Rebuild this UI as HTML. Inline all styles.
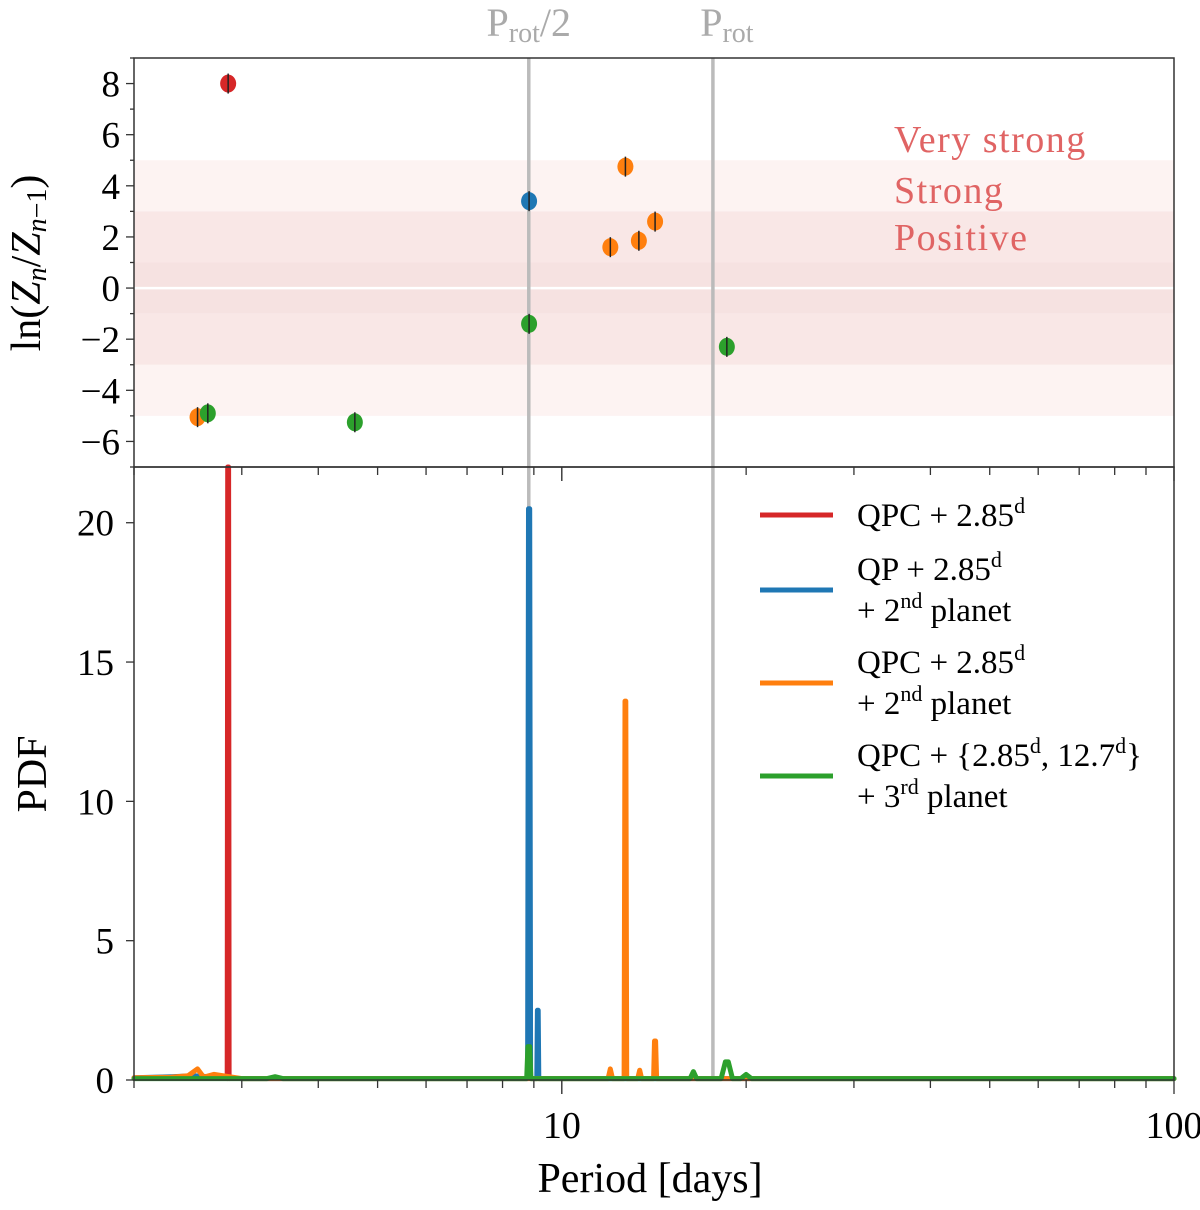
<!DOCTYPE html>
<html><head><meta charset="utf-8"><style>
body{margin:0;background:#fff}
svg text{font-family:"Liberation Serif","DejaVu Serif",serif}
</style></head><body>
<svg id="chart" width="1200" height="1205" xmlns="http://www.w3.org/2000/svg"></svg>
<script>
// ---- data ----
const rotLines = [8.83, 17.65];
const rotLabels = ['P', 'P'];
const ptPeriods = [2.85, 2.54, 2.64, 4.59, 8.84, 8.84, 12.7, 12.0, 13.36, 14.2, 18.6];
const ptValues  = [8.0, -5.05, -4.9, -5.25, 3.4, -1.4, 4.75, 1.6, 1.85, 2.6, -2.3];
const ptSeries  = ['red','orange','green','green','blue','green','orange','orange','orange','orange','green'];
const topYTicks = [-6,-4,-2,0,2,4,6,8];
const botYTicks = [0,5,10,15,20];
const xMajor = [10,100];
const redP = [2.84, 2.845, 2.855, 2.86];
const redV = [0.05, 30, 30, 0.05];
const blueP = [2.0, 2.3, 2.5, 3.0, 5.0, 8.79, 8.82, 8.86, 8.89, 9.10, 9.12, 9.15, 9.17, 9.5, 15, 30, 100];
const blueV = [0.08, 0.12, 0.15, 0.05, 0.05, 0.05, 20.5, 20.5, 0.05, 0.05, 2.5, 2.5, 0.05, 0.05, 0.05, 0.05, 0.05];
const orangeP = [2.0, 2.3, 2.45, 2.54, 2.6, 2.7, 3.0, 8, 11.9, 12.0, 12.1, 12.64, 12.68, 12.72, 12.76, 13.3, 13.4, 13.5, 14.12, 14.17, 14.23, 14.28, 20, 100];
const orangeV = [0.08, 0.1, 0.15, 0.4, 0.1, 0.2, 0.05, 0.05, 0.05, 0.4, 0.05, 0.05, 13.6, 13.6, 0.05, 0.05, 0.35, 0.05, 0.05, 1.4, 1.4, 0.05, 0.05, 0.05];
const greenP = [2.0, 3.3, 3.4, 3.5, 8.76, 8.80, 8.86, 8.90, 16.2, 16.4, 16.6, 18.2, 18.5, 18.7, 19.0, 19.6, 20, 20.4, 100];
const greenV = [0.05, 0.05, 0.12, 0.05, 0.05, 1.2, 1.2, 0.05, 0.05, 0.3, 0.05, 0.05, 0.65, 0.65, 0.05, 0.05, 0.2, 0.05, 0.05];
const legendLabels = [['QPC + 2.85','d'],['QP + 2.85','d'],['QPC + 2.85','d'],['QPC + {2.85','d']];
// ---- scales ----
const X0=134, X1=1174, TOP0=58, TOP1=467, BOT1=1080;
const colors={red:'#d62728',blue:'#1f77b4',orange:'#ff7f0e',green:'#2ca02c'};
function xs(p){return X0+(Math.log10(p)-Math.log10(2))/(Math.log10(100)-Math.log10(2))*(X1-X0);}
function yt(v){return TOP0+(9-v)/16*(TOP1-TOP0);}
function yb(v){return TOP1+(22-v)/22*(BOT1-TOP1);}
const svg=document.getElementById('chart');
const NS='http://www.w3.org/2000/svg';
function mk(tag,at,parent){const e=document.createElementNS(NS,tag);for(const k in at)e.setAttribute(k,at[k]);(parent||svg).appendChild(e);return e;}
// bands
const bands=[[3,5,'#fdf3f2'],[-5,-3,'#fdf3f2'],[1,3,'#f9e7e6'],[-3,-1,'#f9e7e6'],[-1,1,'#f6e2e1']];
bands.forEach(b=>{const r=mk('rect',{x:X0,y:yt(b[1]),width:X1-X0,height:yt(b[0])-yt(b[1]),fill:b[2]});

});
let zl=mk('line',{x1:X0,x2:X1,y1:yt(0),y2:yt(0),stroke:'#fff','stroke-width':2.5});


// band labels
[['Very strong',140],['Strong',191],['Positive',238]].forEach(t=>{const e=mk('text',{x:894,y:t[1]+12,'font-size':38,'letter-spacing':1.5,fill:'#e06464'});e.textContent=t[0];

});
// rot lines
rotLines.forEach((p,i)=>{const l=mk('line',{x1:xs(p),x2:xs(p),y1:TOP0,y2:BOT1,stroke:'#bbb','stroke-width':3.5});


const t=mk('text',{x:xs(p)+(i==0?0:14),y:36,'font-size':40,fill:'#aaa','text-anchor':'middle'});


const a=mk('tspan',{},t);a.textContent=rotLabels[i];
const b=mk('tspan',{'font-size':28,dy:6},t);b.textContent='rot';
if(i==0){const c=mk('tspan',{dy:-6},t);c.textContent='/2';}});
// pdf curves
function curve(P,V,c,name){let d='';P.forEach((p,i)=>{d+=(i?'L':'M')+xs(p).toFixed(1)+','+Math.max(TOP1,yb(V[i])).toFixed(1);});
const e=mk('path',{d:d,fill:'none',stroke:colors[c],'stroke-width':5,'stroke-linejoin':'round','stroke-linecap':'round'});

}
curve(redP,redV,'red','pdf-red');
curve(blueP,blueV,'blue','pdf-blue');
curve(orangeP,orangeV,'orange','pdf-orange');
curve(greenP,greenV,'green','pdf-green');
// points
ptPeriods.forEach((p,i)=>{const cx=xs(p),cy=yt(ptValues[i]);
const c=mk('ellipse',{cx:cx,cy:cy,rx:8,ry:9,fill:colors[ptSeries[i]]});


mk('line',{x1:cx,x2:cx,y1:cy-10,y2:cy+10,stroke:'#222','stroke-width':1.5});});
// frames
[[TOP0,TOP1],[TOP1,BOT1]].forEach(f=>{const r=mk('rect',{x:X0,y:f[0],width:X1-X0,height:f[1]-f[0],fill:'none',stroke:'#333','stroke-width':1.5});

});
// y ticks top
for(let v=-7;v<=9;v++){const L=(v%2===0)?8:4;mk('line',{x1:X0-L,x2:X0,y1:yt(v),y2:yt(v),stroke:'#333','stroke-width':1.3});}
topYTicks.forEach(v=>{const t=mk('text',{x:X0-14,y:yt(v)+13,'font-size':37,'text-anchor':'end'});t.textContent=(v<0?'\u2212':'')+Math.abs(v);

});
botYTicks.forEach(v=>{mk('line',{x1:X0-8,x2:X0,y1:yb(v),y2:yb(v),stroke:'#333','stroke-width':1.3});
const t=mk('text',{x:X0-20,y:yb(v)+13,'font-size':37,'text-anchor':'end'});t.textContent=v;

});
// x ticks
for(let d=1;d<=10;d++){ [1,10].forEach(m=>{const p=d*m;if(p<2||p>100)return;const big=(p===10||p===100);
mk('line',{x1:xs(p),x2:xs(p),y1:BOT1,y2:BOT1+(big?14:8),stroke:'#333','stroke-width':1.3});
mk('line',{x1:xs(p),x2:xs(p),y1:TOP1,y2:TOP1+(big?14:8),stroke:'#333','stroke-width':1.3});});}
xMajor.forEach(p=>{const t=mk('text',{x:xs(p),y:BOT1+58,'font-size':38,'text-anchor':'middle'});t.textContent=p;

});
// axis titles
let xt=mk('text',{x:650,y:1192,'font-size':42,'text-anchor':'middle'});xt.textContent='Period [days]';


let yt2=mk('text',{x:0,y:0,'font-size':42,'text-anchor':'middle',transform:'translate(46,774) rotate(-90)'});yt2.textContent='PDF';


let yt3=mk('text',{x:0,y:0,'font-size':42,'text-anchor':'middle',transform:'translate(40,263) rotate(-90)'});


yt3.innerHTML='ln(<tspan font-style="italic">Z</tspan><tspan font-size="28" dy="6" font-style="italic">n</tspan><tspan dy="-6">/</tspan><tspan font-style="italic">Z</tspan><tspan font-size="28" dy="6"><tspan font-style="italic">n</tspan>\u22121</tspan><tspan dy="-6">)</tspan>';
// legend
const legY=[515,590,683,776];
const legSeries=['red','blue','orange','green'];
const legSecond=[null,'nd','nd','rd'];
const legNum=[null,'2','2','3'];
legSeries.forEach((s,i)=>{const g=mk('g',{});


mk('line',{x1:760,x2:833,y1:legY[i],y2:legY[i],stroke:colors[s],'stroke-width':5},g);
const line1y = i===0?legY[i]+11:legY[i]-10;
const t=mk('text',{x:857,y:line1y,'font-size':33},g);
const a=mk('tspan',{},t);a.textContent=legendLabels[i][0];
const b=mk('tspan',{'font-size':22,dy:-13},t);b.textContent=legendLabels[i][1];
if(i===3){const c=mk('tspan',{dy:13},t);c.textContent=', 12.7';const e=mk('tspan',{'font-size':22,dy:-13},t);e.textContent='d';const f=mk('tspan',{dy:13},t);f.textContent='}';}
if(legSecond[i]){const t2=mk('text',{x:857,y:legY[i]+31,'font-size':33},g);
const p=mk('tspan',{},t2);p.textContent='+ '+legNum[i];
const q=mk('tspan',{'font-size':22,dy:-13},t2);q.textContent=legSecond[i];
const r=mk('tspan',{dy:13},t2);r.textContent=' planet';}});
</script>
</body></html>
